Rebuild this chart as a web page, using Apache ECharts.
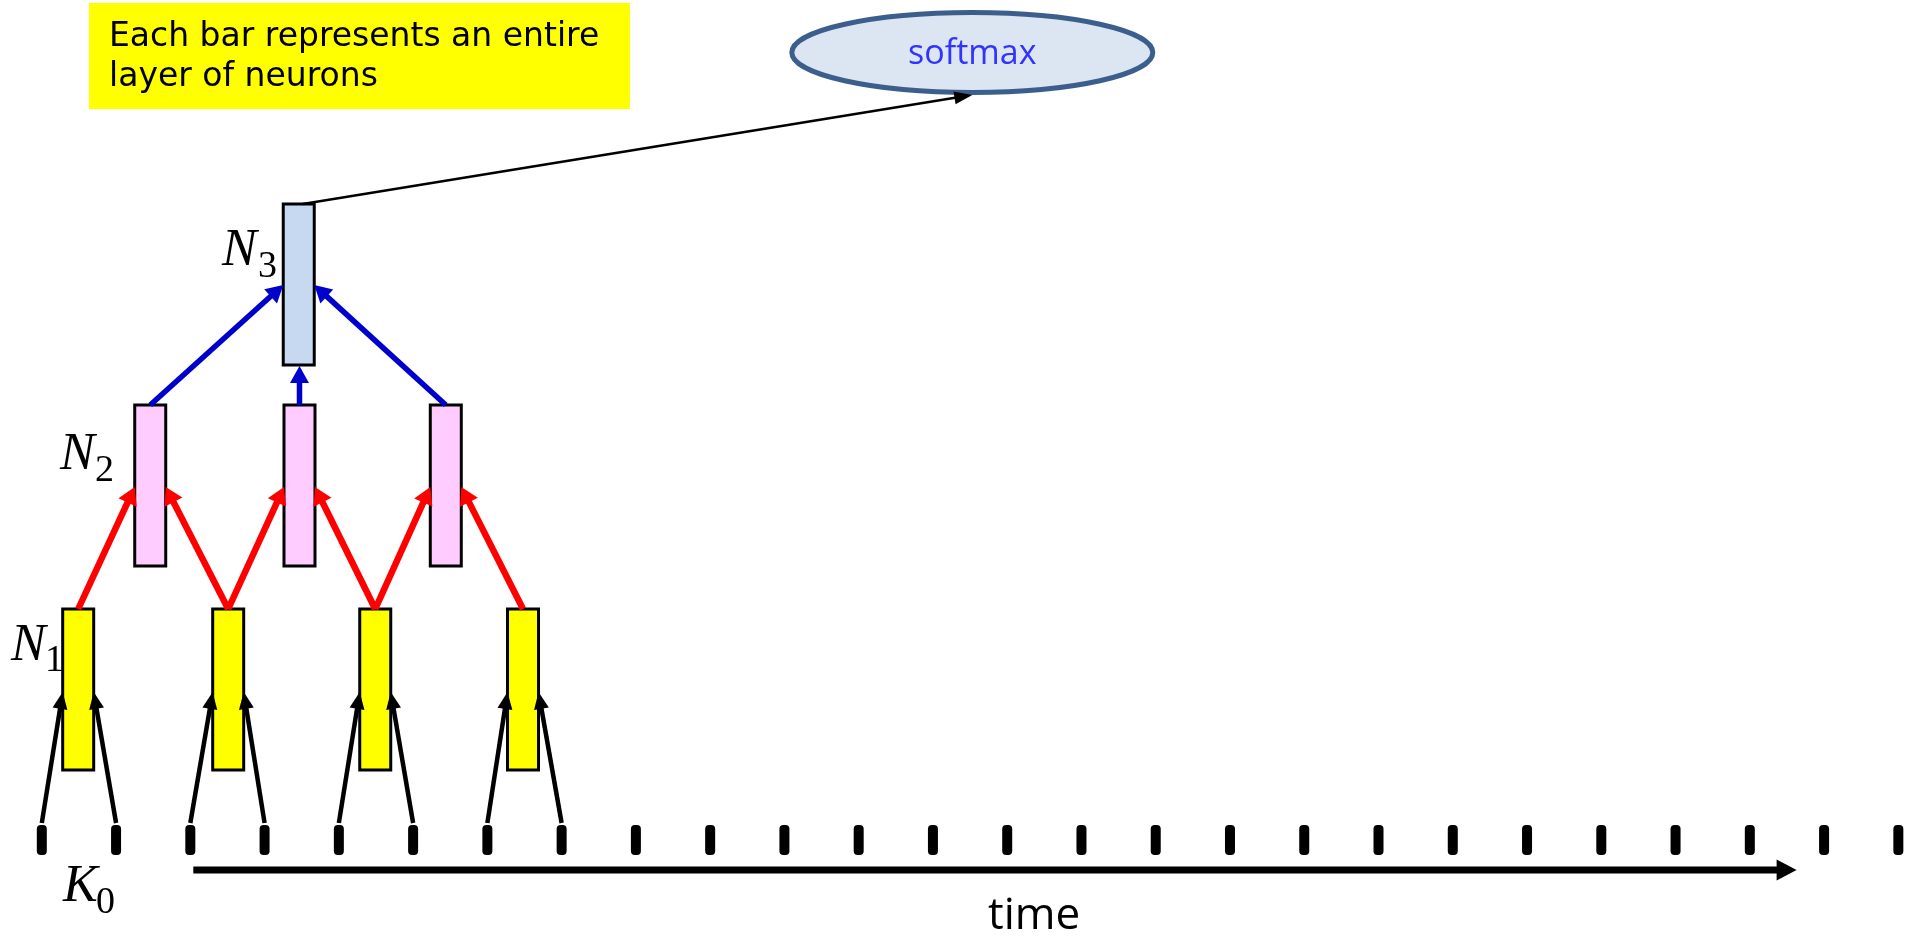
<!DOCTYPE html>
<html><head><meta charset="utf-8">
<script src="https://cdn.jsdelivr.net/npm/echarts@6/dist/echarts.min.js"></script>
<style>html,body{margin:0;padding:0;background:#fff}#c{width:1908px;height:937px}</style>
</head><body><div id="c"></div>
<script>
// ---------- data ----------
const timeSteps = [0,1,2,3,4,5,6,7,8,9,10,11,12,13,14,15,16,17,18,19,20,21,22,23,24,25];
const n1Times = [0.49, 2.51, 4.49, 6.48];
const n2Times = [1.46, 3.47, 5.44];
const n3Times = [3.46];
const softmaxTimes = [12.53];
const k0ToN1 = [[0,0],[1,0],[2,1],[3,1],[4,2],[5,2],[6,3],[7,3]];
const n1ToN2 = [[0,0],[1,0],[1,1],[2,1],[2,2],[3,2]];
const n2ToN3 = [[0,0],[1,0],[2,0]];
const timeArrowSpan = [2.04, 23.63];
const noteLines = ['Each bar represents an entire', 'layer of neurons'];
const softmaxText = 'softmax';
const axisText = 'time';
const layerLabels = [['K','0'],['N','1'],['N','2'],['N','3']];

// ---------- layout (pixels on the vertical axis) ----------
const ROW = {k0: 840, n1: 689.5, n2: 485.5, n3: 284.5, soft: 52.5, axis: 870};
const BAR_W = 31, BAR_HALF = 80.5;
const XMIN = -0.5629, XMAX = 25.130;

function arrow(p1, p2, color, lw, hl, hw) {
  const dx = p2[0]-p1[0], dy = p2[1]-p1[1], L = Math.hypot(dx, dy);
  const ux = dx/L, uy = dy/L;
  const bx = p2[0]-ux*hl, by = p2[1]-uy*hl;
  return [
    {type:'line', shape:{x1:p1[0], y1:p1[1], x2:bx+ux*2, y2:by+uy*2}, style:{stroke:color, lineWidth:lw}},
    {type:'polygon', shape:{points:[[p2[0],p2[1]],[bx-uy*hw/2, by+ux*hw/2],[bx+uy*hw/2, by-ux*hw/2]]}, style:{fill:color, stroke:null}}
  ];
}

function barSeries(times, rowY, fill) {
  return {
    type:'custom', coordinateSystem:'cartesian2d', z: 2,
    data: times.map(t => [t]),
    renderItem: (params, api) => {
      const top = api.coord([api.value(0), rowY - BAR_HALF]);
      const bot = api.coord([api.value(0), rowY + BAR_HALF]);
      return {type:'rect', shape:{x: top[0]-BAR_W/2, y: top[1], width: BAR_W, height: bot[1]-top[1]},
        style:{fill: fill, stroke:'#000', lineWidth: 3}};
    }
  };
}

function edgeSeries(pairs, fromTimes, toTimes, fromY, toY, toYcenter, color, lw, hl, hw) {
  return {
    type:'custom', coordinateSystem:'cartesian2d', z: 5,
    data: pairs.map(p => [fromTimes[p[0]], toTimes[p[1]]]),
    renderItem: (params, api) => {
      const a = api.coord([api.value(0), fromY]);
      const b = api.coord([api.value(1), toYcenter]);
      let end;
      if (Math.abs(a[0]-b[0]) < 12) {
        end = [a[0], api.coord([api.value(1), toY])[1]];
      } else {
        end = [a[0] < b[0] ? b[0]-BAR_W/2 : b[0]+BAR_W/2, b[1]];
      }
      return {type:'group', children: arrow(a, end, color, lw, hl, hw)};
    }
  };
}

const chart = echarts.init(document.getElementById('c'), null, {renderer:'canvas'});
const serif = '"Liberation Serif", "DejaVu Serif", serif';
const noteFont = '33px "Comic Sans MS", "DejaVu Sans", sans-serif';

chart.setOption({
  animation: false,
  backgroundColor: '#fff',
  grid: {left:0, right:0, top:0, bottom:0, containLabel:false},
  xAxis: {type:'value', min:XMIN, max:XMAX, show:false},
  yAxis: {type:'value', min:0, max:937, inverse:true, show:false},
  graphic: [
    {type:'rect', left:89, top:3, shape:{width:541, height:106}, style:{fill:'#ffff00'}, z:1},
    {type:'text', x:109, y:37, style:{text:noteLines[0], font:noteFont, fill:'#000', verticalAlign:'middle'}, z:2},
    {type:'text', x:109, y:77, style:{text:noteLines[1], font:noteFont, fill:'#000', verticalAlign:'middle'}, z:2},
    // layer labels
    {type:'text', x:63, y:887, style:{text:layerLabels[0][0], font:'italic 52px '+serif, fill:'#000', verticalAlign:'middle'}},
    {type:'text', x:96, y:903, style:{text:layerLabels[0][1], font:'38px '+serif, fill:'#000', verticalAlign:'middle'}},
    {type:'text', x:11, y:646, style:{text:layerLabels[1][0], font:'italic 52px '+serif, fill:'#000', verticalAlign:'middle'}},
    {type:'text', x:45, y:661, style:{text:layerLabels[1][1], font:'38px '+serif, fill:'#000', verticalAlign:'middle'}},
    {type:'text', x:60, y:455, style:{text:layerLabels[2][0], font:'italic 52px '+serif, fill:'#000', verticalAlign:'middle'}},
    {type:'text', x:95, y:471, style:{text:layerLabels[2][1], font:'38px '+serif, fill:'#000', verticalAlign:'middle'}},
    {type:'text', x:222, y:251, style:{text:layerLabels[3][0], font:'italic 52px '+serif, fill:'#000', verticalAlign:'middle'}},
    {type:'text', x:258, y:267, style:{text:layerLabels[3][1], font:'38px '+serif, fill:'#000', verticalAlign:'middle'}},
    {type:'text', x:988, y:916, style:{text:axisText, font:'44px "Open Sans", sans-serif', fill:'#000', verticalAlign:'middle'}}
  ],
  series: [
    // time steps (K0 inputs)
    {
      type:'custom', coordinateSystem:'cartesian2d', z: 3,
      data: timeSteps.map(t => [t]),
      renderItem: (params, api) => {
        const top = api.coord([api.value(0), ROW.k0 - 15]);
        const bot = api.coord([api.value(0), ROW.k0 + 15]);
        return {type:'rect', shape:{x: top[0]-5, y: top[1], width: 10, height: bot[1]-top[1], r: 4}, style:{fill:'#000'}};
      }
    },
    // time arrow
    {
      type:'custom', coordinateSystem:'cartesian2d', z: 3,
      data: [timeArrowSpan],
      renderItem: (params, api) => {
        const a = api.coord([api.value(0), ROW.axis]);
        const b = api.coord([api.value(1), ROW.axis]);
        return {type:'group', children: arrow(a, b, '#000', 7, 20, 21)};
      }
    },
    barSeries(n1Times, ROW.n1, '#ffff00'),
    barSeries(n2Times, ROW.n2, '#ffccff'),
    barSeries(n3Times, ROW.n3, '#c6d9f0'),
    edgeSeries(k0ToN1, timeSteps, n1Times, ROW.k0 - 17, ROW.n1 + BAR_HALF, ROW.n1 + 2.5, '#000', 4.5, 17, 15),
    edgeSeries(n1ToN2, n1Times, n2Times, ROW.n1 - BAR_HALF, ROW.n2 + BAR_HALF, ROW.n2 + 1.5, '#ff0000', 6.5, 17, 20),
    edgeSeries(n2ToN3, n2Times, n3Times, ROW.n2 - BAR_HALF, ROW.n3 + BAR_HALF + 1, ROW.n3 + 0.5, '#0000cc', 5.5, 17, 19),
    // softmax node
    {
      type:'custom', coordinateSystem:'cartesian2d', z: 4,
      data: softmaxTimes.map(t => [t]),
      renderItem: (params, api) => {
        const c = api.coord([api.value(0), ROW.soft]);
        return {type:'group', children:[
          {type:'ellipse', shape:{cx:c[0], cy:c[1], rx:180.5, ry:40}, style:{fill:'#dce6f2', stroke:'#3b5e8c', lineWidth:5}},
          {type:'text', x:c[0], y:c[1]+2, style:{text:softmaxText, font:'34px "Open Sans", sans-serif', fill:'#3333ff', align:'center', verticalAlign:'middle'}}
        ]};
      }
    },
    // N3 -> softmax
    {
      type:'custom', coordinateSystem:'cartesian2d', z: 5,
      data: [[n3Times[0], softmaxTimes[0]]],
      renderItem: (params, api) => {
        const a = api.coord([api.value(0), ROW.n3 - BAR_HALF]);
        const b = api.coord([api.value(1), ROW.soft + 42.5]);
        return {type:'group', children: arrow([a[0]+4, a[1]], b, '#000', 2.5, 18, 13)};
      }
    }
  ]
});
</script></body></html>
